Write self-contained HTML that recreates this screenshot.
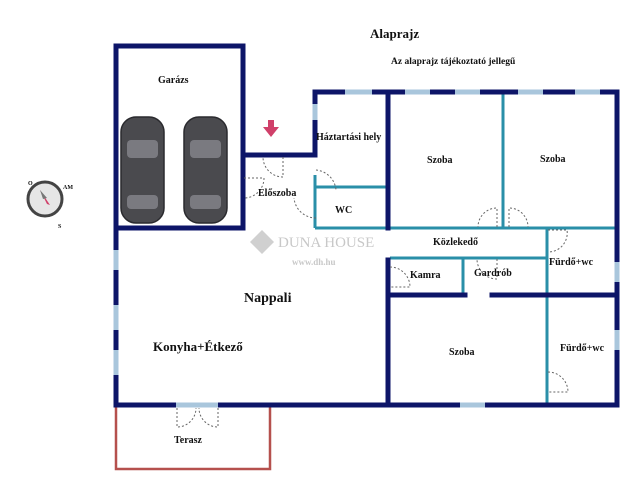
<!DOCTYPE html>
<html><head><style>
body{margin:0;background:#fff;width:640px;height:490px;overflow:hidden}
svg{display:block}
text{font-family:"Liberation Serif",serif;font-weight:bold;fill:#111}
</style></head><body>
<svg width="640" height="490" viewBox="0 0 640 490">
<!-- terrace -->
<polyline points="116,406 116,469 270,469 270,406" fill="none" stroke="#b5504d" stroke-width="2.5"/>
<!-- teal inner walls -->
<g stroke="#2a8fa8" stroke-width="3" fill="none">
<line x1="315" y1="187" x2="388" y2="187"/>
<line x1="315" y1="228" x2="617" y2="228"/>
<line x1="315" y1="175" x2="315" y2="228"/>
<line x1="503" y1="92" x2="503" y2="228"/>
<line x1="390" y1="258" x2="547" y2="258"/>
<line x1="463" y1="258" x2="463" y2="295"/>
<line x1="547" y1="228" x2="547" y2="405"/>
</g>
<!-- navy walls -->
<g stroke="#0d1568" stroke-width="5" fill="none" stroke-linecap="square">
<polyline points="116,405 116,46 243,46 243,155 315,155 315,92 617,92 617,405 116,405"/>
<line x1="116" y1="228" x2="243" y2="228"/>
<line x1="243" y1="155" x2="243" y2="228"/>
<line x1="388" y1="92" x2="388" y2="228"/>
<line x1="388" y1="260" x2="388" y2="405"/>
<line x1="390" y1="295" x2="465" y2="295"/>
<line x1="492" y1="295" x2="617" y2="295"/>
</g>
<!-- windows -->
<g stroke="#a9c6dc" stroke-width="5">
<line x1="405" y1="92" x2="430" y2="92"/><line x1="455" y1="92" x2="480" y2="92"/>
<line x1="518" y1="92" x2="543" y2="92"/><line x1="575" y1="92" x2="600" y2="92"/>
<line x1="345" y1="92" x2="372" y2="92"/>
<line x1="315" y1="104" x2="315" y2="120"/>
<line x1="116" y1="250" x2="116" y2="270"/><line x1="116" y1="305" x2="116" y2="330"/><line x1="116" y1="350" x2="116" y2="375"/>
<line x1="617" y1="262" x2="617" y2="282"/><line x1="617" y1="330" x2="617" y2="350"/>
<line x1="460" y1="405" x2="485" y2="405"/>
<line x1="176" y1="405" x2="218" y2="405"/>
</g>
<!-- doors -->
<g stroke="#666" stroke-width="1" fill="none" stroke-dasharray="2,2">
<path d="M283,157 V177 A20,20 0 0 1 263,157"/>
<path d="M244,178 H264 A20,20 0 0 1 244,198"/>
<path d="M316,170 A22,22 0 0 1 336,190"/>
<path d="M316,218 A22,22 0 0 1 294,198"/>
<path d="M497,227 V208 A19,19 0 0 0 478,227"/>
<path d="M509,227 V208 A19,19 0 0 1 528,227"/>
<path d="M548,230 H567 A19,19 0 0 1 548,252"/>
<path d="M390,267 A20,20 0 0 1 410,287 H390"/>
<path d="M497,259 V279 A20,20 0 0 1 477,259"/>
<path d="M548,372 A20,20 0 0 1 568,392 H548"/>
<path d="M177,408 V427 A19,19 0 0 0 196,408 M218,408 V427 A19,19 0 0 1 199,408"/>
</g>
<!-- arrow -->
<path d="M268,120 h6 v7 h5 l-8,10 l-8,-10 h5z" fill="#d0406a"/>
<!-- cars -->
<g fill="#4a4a4e" stroke="#2a2a2e" stroke-width="1.5">
<rect x="121" y="117" width="43" height="106" rx="15"/>
<rect x="184" y="117" width="43" height="106" rx="15"/>
</g>
<g fill="#7a7a80">
<rect x="127" y="140" width="31" height="18" rx="4"/><rect x="127" y="195" width="31" height="14" rx="4"/>
<rect x="190" y="140" width="31" height="18" rx="4"/><rect x="190" y="195" width="31" height="14" rx="4"/>
</g>
<!-- compass -->
<circle cx="45" cy="199" r="17" fill="#e6e6e6" stroke="#444" stroke-width="3"/>
<path d="M40,190 L47,204 L50,205 Z" fill="#d0406a"/>
<path d="M40,190 L43,199 L47,198 Z" fill="#777"/>
<text x="28" y="185" font-size="6" fill="#666">O</text>
<text x="63" y="189" font-size="6" fill="#666">AM</text>
<text x="58" y="228" font-size="6" fill="#666">S</text>
<!-- watermark -->
<text x="278" y="247" font-size="15" fill="#ccc" style="fill:#c8c8c8;font-family:'Liberation Serif',serif;font-weight:normal">DUNA HOUSE</text>
<text x="292" y="265" font-size="9" style="fill:#c8c8c8">www.dh.hu</text>
<path d="M262,230 l12,12 l-12,12 l-12,-12z" fill="#d0d0d0"/>
<!-- labels -->
<text x="370" y="38" font-size="13">Alaprajz</text>
<text x="391" y="64" font-size="9.5">Az alaprajz tájékoztató jellegű</text>
<text x="158" y="83" font-size="10">Garázs</text>
<text x="316" y="140" font-size="10">Háztartási hely</text>
<text x="258" y="196" font-size="10">Előszoba</text>
<text x="335" y="213" font-size="10">WC</text>
<text x="427" y="163" font-size="10">Szoba</text>
<text x="540" y="162" font-size="10">Szoba</text>
<text x="433" y="245" font-size="10">Közlekedő</text>
<text x="549" y="265" font-size="10">Fürdő+wc</text>
<text x="410" y="278" font-size="10">Kamra</text>
<text x="474" y="276" font-size="10">Gardrób</text>
<text x="244" y="302" font-size="14">Nappali</text>
<text x="153" y="351" font-size="13">Konyha+Étkező</text>
<text x="449" y="355" font-size="10">Szoba</text>
<text x="560" y="351" font-size="10">Fürdő+wc</text>
<text x="174" y="443" font-size="10">Terasz</text>
</svg>
</body></html>
